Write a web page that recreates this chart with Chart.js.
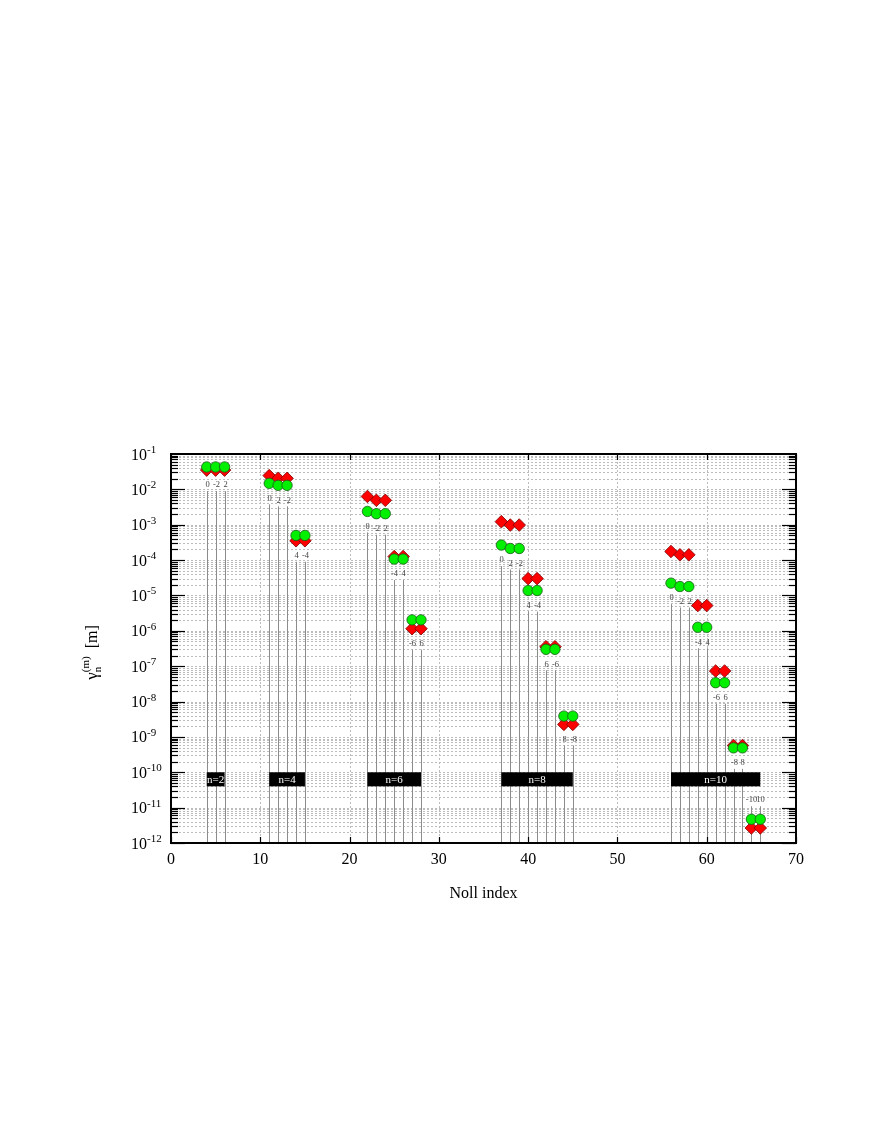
<!DOCTYPE html>
<html><head><meta charset="utf-8">
<script src="https://cdn.jsdelivr.net/npm/chart.js@4/dist/chart.umd.min.js"></script>
<style>html,body{margin:0;padding:0;background:#fff;}canvas{display:block;}</style>
</head><body>
<canvas id="c" width="872" height="1128"></canvas>
<script>
// ---- data ----
const nollIndex = [4,5,6, 11,12,13, 14,15, 22,23,24, 25,26, 27,28, 37,38,39, 40,41, 42,43, 44,45, 56,57,58, 59,60, 61,62, 63,64, 65,66];
const mLabels   = ['0','-2','2', '0','2','-2', '4','-4', '0','-2','2', '-4','4', '-6','6', '0','2','-2', '4','-4', '6','-6', '8','-8', '0','-2','2', '-4','4', '-6','6', '-8','8', '-10','10'];
const diamondValues = [3.5e-2,3.5e-2,3.5e-2, 2.45e-2,2.05e-2,2.05e-2, 3.52e-4,3.52e-4, 6.3e-3,4.9e-3,4.9e-3, 1.26e-4,1.26e-4, 1.15e-6,1.15e-6, 1.22e-3,9.8e-4,9.8e-4, 3.0e-5,3.0e-5, 3.55e-7,3.55e-7, 2.26e-9,2.26e-9, 1.75e-4,1.41e-4,1.41e-4, 5.18e-6,5.18e-6, 7.3e-8,7.3e-8, 5.7e-10,5.7e-10, 2.66e-12,2.66e-12];
const circleValues  = [4.3e-2,4.3e-2,4.3e-2, 1.48e-2,1.3e-2,1.3e-2, 4.98e-4,4.98e-4, 2.38e-3,2.05e-3,2.05e-3, 1.07e-4,1.07e-4, 2.04e-6,2.04e-6, 2.66e-4,2.13e-4,2.13e-4, 1.38e-5,1.38e-5, 3.0e-7,3.0e-7, 3.88e-9,3.88e-9, 2.23e-5,1.79e-5,1.79e-5, 1.26e-6,1.26e-6, 3.41e-8,3.41e-8, 4.9e-10,4.9e-10, 4.69e-12,4.69e-12];
const groupStart  = [4, 11, 22, 37, 56];
const groupEnd    = [6, 15, 28, 45, 66];
const groupLabels = ['n=2','n=4','n=6','n=8','n=10'];
const xTicks = [0,10,20,30,40,50,60,70];
const yExponents = [-1,-2,-3,-4,-5,-6,-7,-8,-9,-10,-11,-12];
const xTitle = 'Noll index';

const X_MIN = 0, X_MAX = 70, Y_MIN = 1e-12, Y_MAX = 1e-1;
const SERIF = '"Liberation Serif","Times New Roman",serif';

function line(ctx,x1,y1,x2,y2){ctx.beginPath();ctx.moveTo(x1,y1);ctx.lineTo(x2,y2);ctx.stroke();}

const deco = {
  id: 'deco',
  beforeDatasetsDraw(chart) {
    const {ctx, chartArea: a, scales: {x, y}} = chart;
    ctx.save();
    // dotted grid
    ctx.strokeStyle = '#bcbcbc'; ctx.lineWidth = 1; ctx.setLineDash([2, 2]);
    for (const e of yExponents) {
      for (let k = 1; k <= 9; k++) {
        const v = k * Math.pow(10, e - 1);
        if (v <= Y_MIN * 1.0001 || v >= Y_MAX * 0.9999) continue;
        const py = Math.round(y.getPixelForValue(v)) + 0.5;
        line(ctx, a.left, py, a.right, py);
      }
    }
    for (const t of xTicks) {
      if (t <= X_MIN || t >= X_MAX) continue;
      const px = Math.round(x.getPixelForValue(t)) + 0.5;
      line(ctx, px, a.top, px, a.bottom);
    }
    ctx.setLineDash([]);
    // stems and m labels
    ctx.font = '8.5px ' + SERIF; ctx.textAlign = 'center'; ctx.textBaseline = 'middle';
    for (let i = 0; i < nollIndex.length; i++) {
      const px = Math.round(x.getPixelForValue(nollIndex[i])) + 0.5;
      const lowV = Math.min(diamondValues[i], circleValues[i]);
      const highV = Math.max(diamondValues[i], circleValues[i]);
      let ly = y.getPixelForValue(lowV) + 15;
      if (ly > a.bottom - 20) ly = y.getPixelForValue(highV) - 19;
      ctx.strokeStyle = '#8c8c8c'; ctx.lineWidth = 1;
      line(ctx, px, ly + 6, px, a.bottom);
      ctx.fillStyle = '#444';
      ctx.fillText(mLabels[i], px, ly);
    }
    // group boxes
    for (let g = 0; g < groupStart.length; g++) {
      const x1 = x.getPixelForValue(groupStart[g]), x2 = x.getPixelForValue(groupEnd[g]);
      const y1 = y.getPixelForValue(1e-10), y2 = y.getPixelForValue(4e-11);
      ctx.fillStyle = '#000';
      ctx.fillRect(x1, y1, x2 - x1, y2 - y1);
      ctx.fillStyle = '#fff'; ctx.font = '11px ' + SERIF;
      ctx.fillText(groupLabels[g], (x1 + x2) / 2, (y1 + y2) / 2 + 0.5);
    }
    ctx.restore();
  },
  afterDraw(chart) {
    const {ctx, chartArea: a, scales: {x, y}} = chart;
    ctx.save();
    ctx.strokeStyle = '#000'; ctx.lineWidth = 1.2;
    // y ticks both sides
    for (const e of yExponents) {
      for (let k = 1; k <= 9; k++) {
        const v = k * Math.pow(10, e - 1);
        if (v < Y_MIN * 0.9999 || v > Y_MAX * 1.0001) continue;
        const py = Math.round(y.getPixelForValue(v)) + 0.5;
        const len = k === 1 ? 14 : 7;
        line(ctx, a.left, py, a.left + len, py);
        line(ctx, a.right, py, a.right - len, py);
      }
    }
    // x ticks top/bottom
    for (const t of xTicks) {
      const px = Math.round(x.getPixelForValue(t)) + 0.5;
      line(ctx, px, a.bottom, px, a.bottom - 6);
      line(ctx, px, a.top, px, a.top + 6);
    }
    // frame
    ctx.lineWidth = 2;
    ctx.strokeRect(a.left, a.top, a.right - a.left, a.bottom - a.top);
    // y tick labels
    ctx.fillStyle = '#000'; ctx.textBaseline = 'alphabetic'; ctx.textAlign = 'left';
    for (const e of yExponents) {
      const py = y.getPixelForValue(Math.pow(10, e));
      ctx.font = '16px ' + SERIF;
      const w = ctx.measureText('10').width;
      const lx = a.left - 40;
      ctx.fillText('10', lx, py + 5.5);
      ctx.font = '11px ' + SERIF;
      ctx.fillText(String(e), lx + w, py - 1);
    }
    // x tick labels
    ctx.font = '16px ' + SERIF; ctx.textAlign = 'center';
    for (const t of xTicks) {
      ctx.fillText(String(t), x.getPixelForValue(t), a.bottom + 21);
    }
    // x title
    ctx.fillText(xTitle, (a.left + a.right) / 2, a.bottom + 55);
    // y title (rotated), centred on the plot height
    ctx.font = '17px ' + SERIF;
    const wg = ctx.measureText('\u03B3').width;
    ctx.font = '11px ' + SERIF;
    const wsub = Math.max(ctx.measureText('n').width, ctx.measureText('(m)').width);
    ctx.font = '16px ' + SERIF;
    const wm = ctx.measureText('[m]').width;
    const total = wg + wsub + 8 + wm;
    ctx.translate(97, (a.top + a.bottom) / 2 + total / 2 + 4);
    ctx.rotate(-Math.PI / 2);
    ctx.textAlign = 'left';
    let cx = 0;
    ctx.font = '17px ' + SERIF;
    ctx.fillText('\u03B3', cx, 0); cx += wg;
    ctx.font = '11px ' + SERIF;
    ctx.fillText('n', cx, 4);
    ctx.fillText('(m)', cx, -8);
    cx += wsub + 8;
    ctx.font = '16px ' + SERIF;
    ctx.fillText('[m]', cx, 0);
    ctx.restore();
  }
};

const chart = new Chart(document.getElementById('c'), {
  type: 'scatter',
  data: {
    datasets: [
      {
        label: 'circles',
        data: nollIndex.map((n, i) => ({x: n, y: circleValues[i]})),
        pointStyle: 'circle', pointRadius: 5.2,
        backgroundColor: '#00f000', borderColor: '#1a5a1a', borderWidth: 0.8
      },
      {
        label: 'diamonds',
        data: nollIndex.map((n, i) => ({x: n, y: diamondValues[i]})),
        pointStyle: 'rectRot', pointRadius: 6.3,
        backgroundColor: '#ff0000', borderColor: '#7a0000', borderWidth: 0.8
      }
    ]
  },
  options: {
    responsive: false, animation: false, events: [],
    layout: {padding: {left: 171, right: 76, top: 454, bottom: 285}},
    plugins: {legend: {display: false}, tooltip: {enabled: false}},
    scales: {
      x: {type: 'linear', min: X_MIN, max: X_MAX,
          grid: {display: false, drawTicks: false}, border: {display: false},
          ticks: {display: false}, afterFit(s) { s.height = 0; }},
      y: {type: 'logarithmic', min: Y_MIN, max: Y_MAX,
          grid: {display: false, drawTicks: false}, border: {display: false},
          ticks: {display: false}, afterFit(s) { s.width = 0; }}
    }
  },
  plugins: [deco]
});
</script>
</body></html>
